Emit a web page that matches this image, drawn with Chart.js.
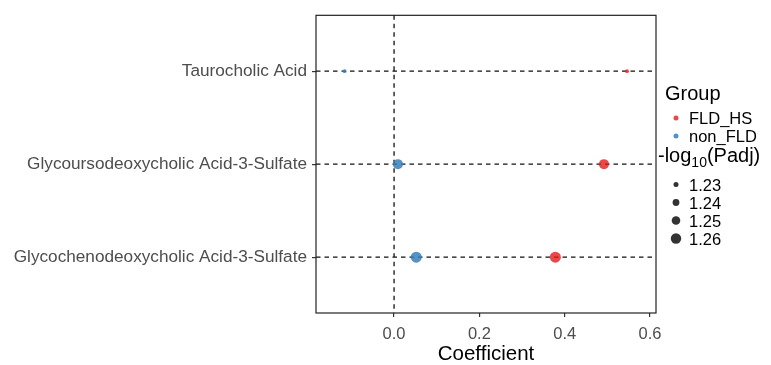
<!DOCTYPE html>
<html>
<head>
<meta charset="utf-8">
<script src="https://cdn.jsdelivr.net/npm/chart.js@4"></script>
<style>
  html, body { margin: 0; padding: 0; background: #fff; }
  #wrap { width: 771px; height: 365px; }
</style>
</head>
<body>
<div id="wrap"><canvas id="dots" width="771" height="365"></canvas></div>
<script>
// metabolites, top to bottom
const metabolites = ['Taurocholic Acid', 'Glycoursodeoxycholic Acid-3-Sulfate', 'Glycochenodeoxycholic Acid-3-Sulfate'];
const coefFLD = [0.546, 0.492, 0.378];      // FLD_HS
const coefNonFLD = [-0.116, 0.009, 0.052];  // non_FLD
const logPadj = [1.224, 1.258, 1.264];      // -log10(Padj) per metabolite
const sizeLevels = [1.23, 1.24, 1.25, 1.26];
const xTicks = [0.0, 0.2, 0.4, 0.6];

const red = 'rgba(228, 26, 28, 0.8)';
const blue = 'rgba(55, 126, 184, 0.85)';
const FONT = '"Liberation Sans", Arial, sans-serif';

// size scale for -log10(Padj)
function radiusFor(v) {
  return 2.5 + (v - 1.23) * 90;
}

// y position: top row gets highest value
const yPos = i => metabolites.length - i;

function makeData(coefs) {
  return coefs.map((c, i) => ({ x: c, y: yPos(i) }));
}

// dashed reference lines (x = 0 and one per metabolite)
const refLines = {
  id: 'refLines',
  beforeDatasetsDraw(chart) {
    const { ctx, chartArea: a, scales } = chart;
    ctx.save();
    ctx.strokeStyle = '#111';
    ctx.lineWidth = 1.3;
    ctx.setLineDash([4.5, 4]);
    ctx.beginPath();
    const x0 = scales.x.getPixelForValue(0);
    ctx.moveTo(x0, a.top);
    ctx.lineTo(x0, a.bottom);
    metabolites.forEach((m, i) => {
      const y = scales.y.getPixelForValue(yPos(i));
      ctx.moveTo(a.left, y);
      ctx.lineTo(a.right, y);
    });
    ctx.stroke();
    ctx.restore();
  },
  afterDraw(chart) {
    const { ctx, chartArea: a } = chart;
    ctx.save();
    ctx.strokeStyle = '#222';
    ctx.lineWidth = 1.2;
    ctx.strokeRect(a.left, a.top, a.right - a.left, a.bottom - a.top);
    ctx.restore();
  }
};

// ggplot style legend on the right
const sideLegend = {
  id: 'sideLegend',
  afterDraw(chart) {
    const ctx = chart.ctx;
    ctx.save();
    ctx.textBaseline = 'alphabetic';
    ctx.fillStyle = '#000';
    ctx.font = '20px ' + FONT;
    ctx.fillText('Group', 665, 100);

    const groups = [['FLD_HS', red], ['non_FLD', blue]];
    groups.forEach((g, i) => {
      const y = 118 + i * 18;
      ctx.fillStyle = g[1];
      ctx.beginPath();
      ctx.arc(676, y, 2.5, 0, Math.PI * 2);
      ctx.fill();
      ctx.fillStyle = '#000';
      ctx.font = '16.5px ' + FONT;
      ctx.fillText(g[0], 689, y + 6);
    });

    // -log10(Padj)
    let x = 658;
    ctx.font = '20px ' + FONT;
    ctx.fillText('-log', x, 162);
    x += ctx.measureText('-log').width;
    ctx.font = '14px ' + FONT;
    ctx.fillText('10', x, 167);
    x += ctx.measureText('10').width;
    ctx.font = '20px ' + FONT;
    ctx.fillText('(Padj)', x, 162);

    sizeLevels.forEach((v, i) => {
      const y = 184.5 + i * 18;
      ctx.fillStyle = '#333';
      ctx.beginPath();
      ctx.arc(676, y, radiusFor(v), 0, Math.PI * 2);
      ctx.fill();
      ctx.fillStyle = '#000';
      ctx.font = '16.5px ' + FONT;
      ctx.fillText(v.toFixed(2), 689, y + 6);
    });
    ctx.restore();
  }
};

new Chart(document.getElementById('dots'), {
  type: 'scatter',
  data: {
    datasets: [
      {
        label: 'FLD_HS',
        data: makeData(coefFLD),
        backgroundColor: red,
        borderWidth: 0,
        pointRadius: logPadj.map(radiusFor)
      },
      {
        label: 'non_FLD',
        data: makeData(coefNonFLD),
        backgroundColor: blue,
        borderWidth: 0,
        pointRadius: logPadj.map(radiusFor)
      }
    ]
  },
  options: {
    responsive: false,
    animation: false,
    layout: { padding: { top: 15, right: 115, left: 0, bottom: 0 } },
    plugins: {
      legend: { display: false },
      tooltip: { enabled: false }
    },
    scales: {
      x: {
        type: 'linear',
        min: -0.183,
        max: 0.614,
        border: { display: false },
        grid: { drawOnChartArea: false, drawTicks: true, tickLength: 4, color: '#333', lineWidth: 1.2 },
        afterBuildTicks: s => { s.ticks = xTicks.map(v => ({ value: v })); },
        ticks: {
          color: '#4d4d4d',
          font: { family: FONT, size: 16.5 },
          padding: 8,
          callback: v => Number(v).toFixed(1)
        },
        title: {
          display: true,
          text: 'Coefficient',
          color: '#000',
          font: { family: FONT, size: 20.5 },
          padding: { top: 0, bottom: -2 }
        },
        afterFit: s => { s.height = 52; }
      },
      y: {
        type: 'linear',
        min: 0.4,
        max: 3.6,
        border: { display: false },
        grid: { drawOnChartArea: false, drawTicks: true, tickLength: 4, color: '#333', lineWidth: 1.2 },
        afterBuildTicks: s => { s.ticks = metabolites.map((m, i) => ({ value: yPos(i) })); },
        ticks: {
          color: '#4d4d4d',
          font: { family: FONT, size: 17.2 },
          padding: 5,
          callback: v => metabolites[metabolites.length - v]
        },
        afterFit: s => { s.width = 316; }
      }
    }
  },
  plugins: [refLines, sideLegend]
});
</script>
</body>
</html>
